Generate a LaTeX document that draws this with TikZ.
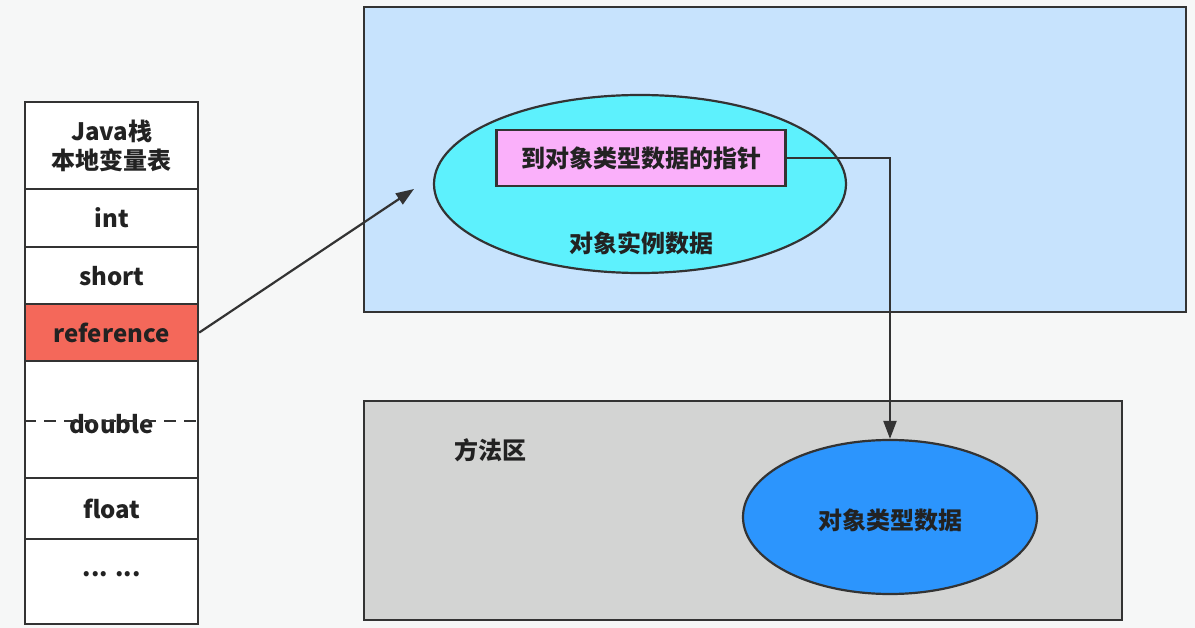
\documentclass[tikz,border=0pt]{standalone}
\usepackage{fontspec}
\setmainfont{Noto Sans CJK SC}
\usetikzlibrary{shapes.geometric,arrows.meta}
\definecolor{bgc}{HTML}{F6F7F7}
\definecolor{heapc}{HTML}{C7E3FD}
\definecolor{cyanc}{HTML}{5DF1FD}
\definecolor{pinkc}{HTML}{FAB0FA}
\definecolor{grayc}{HTML}{D3D4D3}
\definecolor{bluec}{HTML}{2C95FD}
\definecolor{redc}{HTML}{F4685A}
\definecolor{linec}{HTML}{333333}
\definecolor{txtc}{HTML}{222222}
\tikzset{
  cell/.style={draw=linec, line width=2.2pt, fill=white, rectangle, inner sep=0pt,
    minimum width=173pt, anchor=north west, font=\fontsize{24}{29}\selectfont\bfseries,
    text=txtc, align=center},
  region/.style={draw=linec, line width=2.4pt, rectangle, inner sep=0pt, anchor=north west},
  oval/.style={draw=linec, line width=2.2pt, ellipse, inner sep=0pt},
  lbl/.style={font=\fontsize{24}{29}\selectfont\bfseries, text=txtc},
  conn/.style={draw=linec, line width=2.2pt, -{Triangle[length=18pt,width=13pt]}}
}
\begin{document}
\begin{tikzpicture}[x=1pt,y=-1pt]
\fill[bgc] (0,0) rectangle (1195,628);
\useasboundingbox (0,0) rectangle (1195,628);
% stack
\node[cell, minimum height=87pt] (r0) at (24,101) {Java栈\\本地变量表};
\node[cell, minimum height=58pt] (r1) at (24,188) {int};
\node[cell, minimum height=57pt] (r2) at (24,246) {short};
\node[cell, minimum height=57pt, fill=redc] (r3) at (24,303) {reference};
\node[cell, minimum height=117pt] (r4) at (24,360) {};
\node[cell, minimum height=61pt] (r5) at (24,477) {float};
\node[cell, minimum height=85pt] (r6) at (24,538) {};
\node[lbl] (dbl) at ([yshift=-4.5pt]r4.center) {double};
\draw[linec, line width=2.2pt, dash pattern=on 12pt off 8pt] ([yshift=-1.5pt]r4.west) -- ([yshift=-1.5pt]r4.east);
\node[lbl] (dots) at ([yshift=7pt]r6.center) {... ...};
% heap region
\node[region, fill=heapc, minimum width=822pt, minimum height=305pt] (heap) at (363,6) {};
\node[oval, fill=cyanc, minimum width=412pt, minimum height=178pt] (inst) at (640,184) {};
\node[draw=linec, line width=2.2pt, fill=pinkc, rectangle, inner sep=0pt,
  minimum width=289pt, minimum height=56pt, lbl] (ptr) at (641,158) {到对象类型数据的指针};
\node[lbl] (instl) at (641,243) {对象实例数据};
% method area
\node[region, fill=grayc, minimum width=758pt, minimum height=219pt] (meth) at (363,400) {};
\node[lbl] (methl) at (490,450) {方法区};
\node[oval, fill=bluec, minimum width=294pt, minimum height=154pt] (type) at (890,517) {};
\node[lbl] (typel) at (890,520) {对象类型数据};
% connectors
\coordinate (tip) at (414,189);
\draw[conn] (r3.east) -- (tip);
\draw[conn] (ptr.east) -| (type.north);
\end{tikzpicture}
\end{document}
